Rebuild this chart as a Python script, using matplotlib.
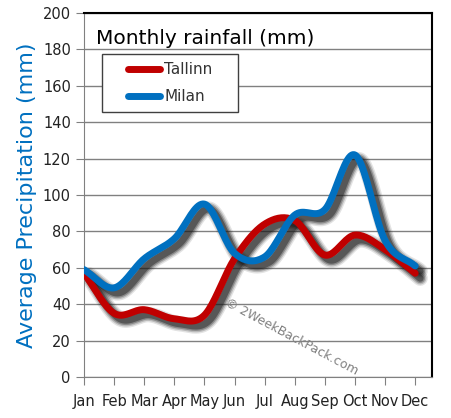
import numpy as np
import matplotlib.pyplot as plt
import matplotlib.transforms as mtransforms
from matplotlib.patches import Rectangle

months = ['Jan', 'Feb', 'Mar', 'Apr', 'May', 'Jun', 'Jul', 'Aug', 'Sep', 'Oct', 'Nov', 'Dec']
tallinn = [57, 35, 37, 32, 34, 65, 84, 86, 67, 78, 70, 57]
milan = [59, 49, 65, 76, 95, 68, 66, 89, 92, 122, 75, 61]


def smooth(y, n=20):
    # catmull-rom like excel smoothed lines
    y = np.asarray(y, float)
    x = np.arange(len(y), dtype=float)
    px = np.concatenate([[2 * x[0] - x[1]], x, [2 * x[-1] - x[-2]]])
    py = np.concatenate([[2 * y[0] - y[1]], y, [2 * y[-1] - y[-2]]])
    xs, ys = [], []
    t = np.linspace(0, 1, n, endpoint=False)
    for i in range(1, len(px) - 2):
        for arr, out in ((px, xs), (py, ys)):
            p0, p1, p2, p3 = arr[i - 1:i + 3]
            out.extend(0.5 * (2 * p1 + (-p0 + p2) * t + (2 * p0 - 5 * p1 + 4 * p2 - p3) * t ** 2
                              + (-p0 + 3 * p1 - 3 * p2 + p3) * t ** 3))
    xs.append(x[-1])
    ys.append(y[-1])
    return np.array(xs), np.array(ys)


fig = plt.figure(figsize=(4.51, 4.18), dpi=100)
ax = fig.add_axes([0.1863, 0.098, 0.7717, 0.871])
ax.set_xlim(0, 11.56)
ax.set_ylim(0, 200)

ax.set_yticks(range(0, 201, 20))
ax.yaxis.grid(True, color='#808080', lw=1)
ax.set_axisbelow(True)
ax.set_xticks(range(12))
ax.set_xticklabels(months)
ax.tick_params(axis='both', labelsize=10.5, colors='#222222', length=6, color='#808080')
ax.tick_params(axis='x', pad=6)
for s in ('left', 'bottom'):
    ax.spines[s].set_color('#808080')
for s in ('right', 'top'):
    ax.spines[s].set_color('black')
    ax.spines[s].set_linewidth(1.5)

for data, col, name in ((tallinn, '#C00000', 'Tallinn'), (milan, '#0070C0', 'Milan')):
    xs, ys = smooth(data)
    off = mtransforms.offset_copy(ax.transData, fig=fig, x=5, y=-5, units='dots')
    for w, a in ((11, 0.12), (9, 0.2), (7, 0.3), (5, 0.45)):
        ax.plot(xs, ys, color='#1a1a1a', lw=w, alpha=a, transform=off,
                solid_capstyle='round', zorder=2)
    ax.plot(xs, ys, color=col, lw=5, solid_capstyle='round', label=name, zorder=3)

ax.add_patch(Rectangle((0.052, 0.727), 0.391, 0.16, transform=ax.transAxes,
                       facecolor='white', edgecolor='#404040', lw=1, zorder=4))
leg = ax.legend(loc='center', bbox_to_anchor=(0.247, 0.807), fontsize=11,
                frameon=False, handlelength=2.1, handletextpad=0.3, labelspacing=0.75)
leg.set_zorder(5)
for t in leg.get_texts():
    t.set_color('#333333')

ax.text(0.035, 0.955, 'Monthly rainfall (mm)', transform=ax.transAxes, fontsize=14.5,
        va='top', ha='left', color='black')
ax.set_ylabel('Average Precipitation (mm)', color='#0070C0', fontsize=16, labelpad=4)

ax.text(6.9, 22, '© 2WeekBackPack.com', rotation=-28, fontsize=9, color='#808080',
        ha='center', va='center', rotation_mode='anchor')

fig.savefig('out.png', dpi=100)
